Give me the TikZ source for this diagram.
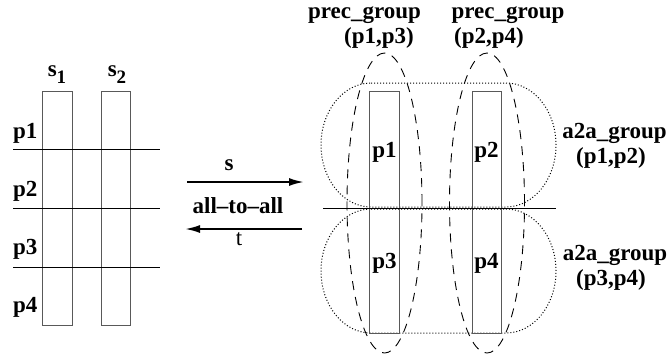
\documentclass[tikz,border=0pt]{standalone}
\usepackage{fontspec}
\setmainfont{Liberation Serif}
\usetikzlibrary{shapes.geometric,arrows.meta}
\newcommand{\mysub}[1]{\raisebox{-7pt}{\fontsize{19}{20}\selectfont #1}}
\begin{document}
\begin{tikzpicture}[x=1pt,y=-1pt,
  bar/.style={draw=black!65, line width=0.9pt, minimum width=30pt, inner sep=0pt},
  lbl/.style={font=\fontsize{23}{27}\selectfont\bfseries, inner sep=0pt, anchor=base},
  rlbl/.style={font=\fontsize{23}{27}\selectfont, inner sep=0pt, anchor=base},
  hline/.style={draw=black, line width=0.8pt},
  arr/.style={draw=black, line width=2pt, -{Latex[length=15pt,width=8pt]}},
  prec/.style={draw=black, ellipse, line width=0.9pt, dash pattern=on 9pt off 7pt, minimum width=75pt, minimum height=300pt, inner sep=0pt},
  a2a/.style={draw=black, line width=1pt, dash pattern=on 1pt off 2pt}
]
\useasboundingbox (0,0) rectangle (668,360);

% ---------- left side ----------
\node[bar, minimum height=234pt] (s1bar) at (57,208) {};
\node[bar, minimum width=29pt, minimum height=234pt] (s2bar) at (115.5,208) {};
\node[lbl] (s1) at (57,76) {s\mysub{1}};
\node[lbl] (s2) at (117,76) {s\mysub{2}};

\coordinate (l1a) at (13,149); \coordinate (l1b) at (160,149);
\coordinate (l2a) at (13,208); \coordinate (l2b) at (160,208);
\coordinate (l3a) at (13,267); \coordinate (l3b) at (160,267);
\draw[hline] (l1a) -- (l1b);
\draw[hline] (l2a) -- (l2b);
\draw[hline] (l3a) -- (l3b);

\node[lbl, anchor=base west] (lp1) at (13,138) {p1};
\node[lbl, anchor=base west] (lp2) at (13,196) {p2};
\node[lbl, anchor=base west] (lp3) at (13,254) {p3};
\node[lbl, anchor=base west] (lp4) at (13,312) {p4};

% ---------- arrows ----------
\coordinate (sa) at (187,182); \coordinate (sb) at (304,182);
\coordinate (ta) at (302,229); \coordinate (tb) at (185,229);
\draw[arr] (sa) -- (sb);
\draw[arr] (ta) -- (tb);
\node[lbl] (slab) at (229,170) {s};
\node[lbl] (alab) at (238,213) {all\textendash to\textendash all};
\node[rlbl] (tlab) at (239,245) {t};

% ---------- right side ----------
\draw[a2a] (371,83) -- (506,83)
  arc[start angle=-90, end angle=90, x radius=50, y radius=62]
  -- (371,207)
  arc[start angle=90, end angle=270, x radius=50, y radius=62] -- cycle;
\draw[a2a] (371,209) -- (506,209)
  arc[start angle=-90, end angle=90, x radius=50, y radius=62]
  -- (371,333)
  arc[start angle=90, end angle=270, x radius=50, y radius=62] -- cycle;
\node[prec] (e13) at (384.5,203) {};
\node[prec] (e24) at (487,203) {};
\node[bar, minimum height=242pt] (r1) at (384,212) {};
\node[bar, minimum width=29pt, minimum height=242pt] (r2) at (486.5,212) {};

\coordinate (ma) at (323,208); \coordinate (mb) at (556,208);
\draw[hline] (ma) -- (mb);

\node[lbl] (rp1) at (384.5,157) {p1};
\node[lbl] (rp2) at (486.5,157) {p2};
\node[lbl] (rp3) at (384.5,268) {p3};
\node[lbl] (rp4) at (486.5,268) {p4};

\node[lbl] (pg1) at (364.5,18) {prec\_group};
\node[lbl] (pg1b) at (379,43) {(p1,p3)};
\node[lbl] (pg2) at (508,18) {prec\_group};
\node[lbl] (pg2b) at (489,43) {(p2,p4)};

\node[lbl] (ag1) at (614.5,138) {a2a\_group};
\node[lbl] (ag1b) at (611,163) {(p1,p2)};
\node[lbl] (ag2) at (615,260) {a2a\_group};
\node[lbl] (ag2b) at (611,285) {(p3,p4)};
\end{tikzpicture}
\end{document}
